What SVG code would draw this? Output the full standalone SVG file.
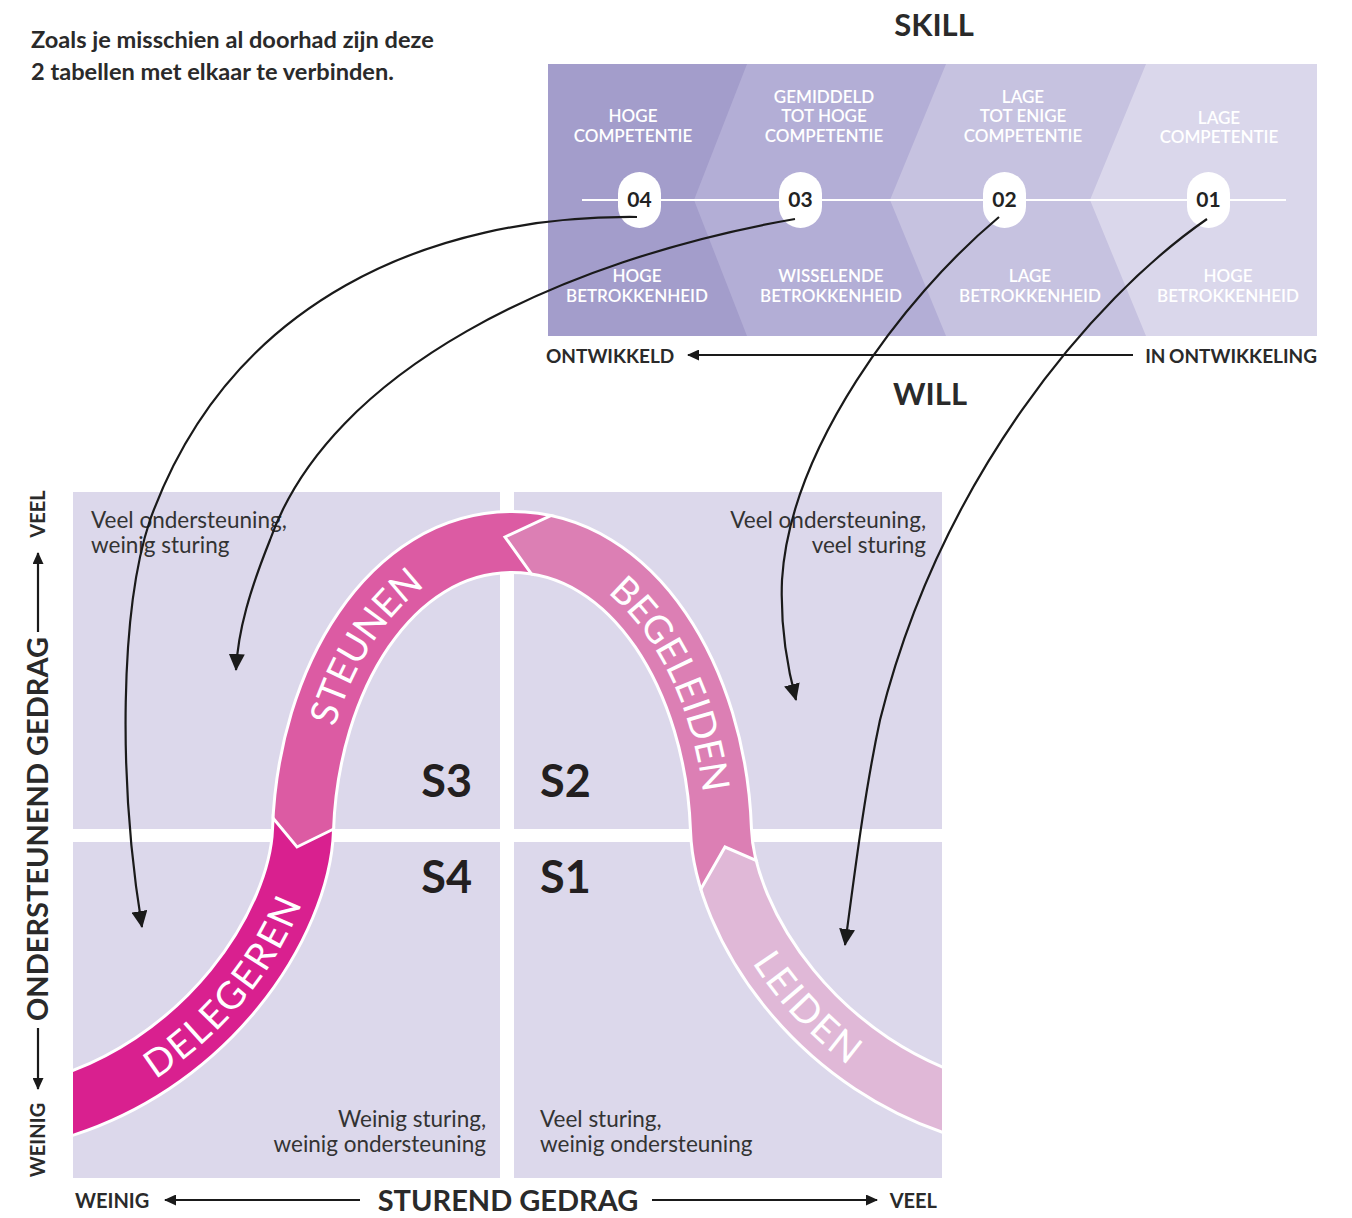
<svg xmlns="http://www.w3.org/2000/svg" xmlns:xlink="http://www.w3.org/1999/xlink" width="1352" height="1218" viewBox="0 0 1352 1218">
  <style>
    text { font-family: Lato, "Noto Sans", "Liberation Sans", sans-serif; }
    .dark { fill: #2a2a2a; }
    .intro { font-size: 23.6px; font-weight: 700; }
    .title { font-size: 31px; font-weight: 700; }
    .axis { font-size: 20px; font-weight: 700; }
    .axisBig { font-size: 29px; font-weight: 700; }
    .scale { font-size: 19px; font-weight: 700; }
    .cell { font-size: 17px; font-weight: 600; fill: #ffffff; text-anchor: middle; }
    .pill { fill: #ffffff; }
    .num { font-size: 21px; font-weight: 700; fill: #222222; text-anchor: middle; }
    .quad { fill: #dcd8eb; }
    .qtext { font-size: 22.5px; fill: #333333; }
    .style { font-size: 45px; font-weight: 700; fill: #231f20; }
    .bandLabel { font-size: 38px; fill: #ffffff; letter-spacing: 1px; }
    .line { fill: none; stroke: #1a1a1a; stroke-width: 2.2; }
    .conn { fill: none; stroke: #1a1a1a; stroke-width: 2.2; marker-end: url(#head); }
  </style>
  <defs>
    <marker id="head" viewBox="0 0 17 16" refX="16" refY="8" markerWidth="17" markerHeight="16" markerUnits="userSpaceOnUse" orient="auto">
      <path d="M0,0 L17,8 L0,16 z" fill="#1a1a1a"/>
    </marker>
    <marker id="headSmall" viewBox="0 0 12 11" refX="11" refY="5.5" markerWidth="12" markerHeight="11" markerUnits="userSpaceOnUse" orient="auto">
      <path d="M0,0 L12,5.5 L0,11 z" fill="#1a1a1a"/>
    </marker>
    <!-- centre line of the bell-shaped band -->
    <path id="curve" d="M 40 1113 C 210 1070 300 920 303 830 C 308 680 390 542 512 542 C 634 542 716 680 721 830 C 724 920 814 1070 984 1113"/>
    <clipPath id="plot"><rect x="73" y="480" width="869" height="700"/></clipPath>
    <mask id="bandInner" maskUnits="userSpaceOnUse" x="0" y="0" width="1352" height="1218">
      <use xlink:href="#curve" fill="none" stroke="#ffffff" stroke-width="58"/>
    </mask>
    <mask id="bandOuter" maskUnits="userSpaceOnUse" x="0" y="0" width="1352" height="1218">
      <use xlink:href="#curve" fill="none" stroke="#ffffff" stroke-width="64"/>
    </mask>
  </defs>

  <rect width="1352" height="1218" fill="#ffffff"/>

  <!-- intro text -->
  <g id="intro" class="dark intro">
    <text x="31" y="48">Zoals je misschien al doorhad zijn deze</text>
    <text x="31" y="80">2 tabellen met elkaar te verbinden.</text>
  </g>

  <!-- skill / will table -->
  <g id="table">
    <text class="dark title" x="934" y="36" text-anchor="middle">SKILL</text>
    <rect id="col-01" x="548" y="64" width="769" height="272" fill="#dad7eb"/>
    <polygon id="col-02" points="548,64 1146,64 1090,200 1146,336 548,336" fill="#c6c2e0"/>
    <polygon id="col-03" points="548,64 946,64 890,200 946,336 548,336" fill="#b3aed6"/>
    <polygon id="col-04" points="548,64 747,64 694,200 747,336 548,336" fill="#a39dcb"/>
    <line x1="582" y1="200" x2="1286" y2="200" stroke="#ffffff" stroke-width="2"/>

    <g id="cell-04">
      <text class="cell" x="633" y="122">HOGE</text>
      <text class="cell" x="633" y="142">COMPETENTIE</text>
      <text class="cell" x="637" y="282">HOGE</text>
      <text class="cell" x="637" y="302">BETROKKENHEID</text>
    </g>
    <g id="cell-03">
      <text class="cell" x="824" y="103">GEMIDDELD</text>
      <text class="cell" x="824" y="122">TOT HOGE</text>
      <text class="cell" x="824" y="142">COMPETENTIE</text>
      <text class="cell" x="831" y="282">WISSELENDE</text>
      <text class="cell" x="831" y="302">BETROKKENHEID</text>
    </g>
    <g id="cell-02">
      <text class="cell" x="1023" y="103">LAGE</text>
      <text class="cell" x="1023" y="122">TOT ENIGE</text>
      <text class="cell" x="1023" y="142">COMPETENTIE</text>
      <text class="cell" x="1030" y="282">LAGE</text>
      <text class="cell" x="1030" y="302">BETROKKENHEID</text>
    </g>
    <g id="cell-01">
      <text class="cell" x="1219" y="124">LAGE</text>
      <text class="cell" x="1219" y="143">COMPETENTIE</text>
      <text class="cell" x="1228" y="282">HOGE</text>
      <text class="cell" x="1228" y="302">BETROKKENHEID</text>
    </g>

    <g id="pill-04"><rect class="pill" x="618" y="172" width="43" height="56" rx="21.5"/><text class="num" x="639.5" y="207">04</text></g>
    <g id="pill-03"><rect class="pill" x="779" y="172" width="43" height="56" rx="21.5"/><text class="num" x="800.5" y="207">03</text></g>
    <g id="pill-02"><rect class="pill" x="983" y="172" width="43" height="56" rx="21.5"/><text class="num" x="1004.5" y="207">02</text></g>
    <g id="pill-01"><rect class="pill" x="1187" y="172" width="43" height="56" rx="21.5"/><text class="num" x="1208.5" y="207">01</text></g>

    <g id="will-scale">
      <text class="dark scale" x="546" y="363">ONTWIKKELD</text>
      <line class="line" x1="1133" y1="355" x2="688" y2="355" marker-end="url(#headSmall)"/>
      <text class="dark scale" x="1317" y="363" text-anchor="end" word-spacing="-1">IN ONTWIKKELING</text>
      <text class="dark title" x="930" y="405" text-anchor="middle">WILL</text>
    </g>
  </g>

  <!-- quadrants -->
  <g id="quadrants">
    <g id="q-s3">
      <rect class="quad" x="73" y="492" width="427" height="337"/>
      <text class="qtext" x="91" y="528">Veel ondersteuning,</text>
      <text class="qtext" x="91" y="553">weinig sturing</text>
      <text class="style" x="472" y="797" text-anchor="end">S3</text>
    </g>
    <g id="q-s2">
      <rect class="quad" x="514" y="492" width="428" height="337"/>
      <text class="qtext" x="926" y="528" text-anchor="end">Veel ondersteuning,</text>
      <text class="qtext" x="926" y="553" text-anchor="end">veel sturing</text>
      <text class="style" x="540" y="797">S2</text>
    </g>
    <g id="q-s4">
      <rect class="quad" x="73" y="842" width="427" height="336"/>
      <text class="qtext" x="486" y="1127" text-anchor="end">Weinig sturing,</text>
      <text class="qtext" x="486" y="1152" text-anchor="end">weinig ondersteuning</text>
      <text class="style" x="472" y="893" text-anchor="end">S4</text>
    </g>
    <g id="q-s1">
      <rect class="quad" x="514" y="842" width="428" height="336"/>
      <text class="qtext" x="540" y="1127">Veel sturing,</text>
      <text class="qtext" x="540" y="1152">weinig ondersteuning</text>
      <text class="style" x="540" y="893">S1</text>
    </g>
  </g>

  <!-- bell-shaped band: one colour per leadership style -->
  <g id="band" clip-path="url(#plot)">
    <use xlink:href="#curve" fill="none" stroke="#ffffff" stroke-width="64"/>
    <g mask="url(#bandInner)">
      <polygon id="seg-delegeren" points="0,789 249,789 297,847 350,821 350,1218 0,1218" fill="#d9208f"/>
      <polygon id="seg-steunen" points="0,470 580,470 580,502 505,537 545,593 350,821 297,847 249,789 0,789" fill="#dc5ba3"/>
      <polygon id="seg-begeleiden" points="505,537 580,502 580,470 1100,470 1100,875 790,875 725,847 690,908 545,593" fill="#dc7fb4"/>
      <polygon id="seg-leiden" points="690,908 725,847 790,875 1100,875 1100,1218 690,1218" fill="#e0b8d7"/>
    </g>
    <g mask="url(#bandOuter)" fill="none" stroke="#ffffff" stroke-width="3">
      <polyline points="249,789 297,847 350,821"/>
      <polyline points="580,502 505,537 545,593"/>
      <polyline points="690,908 725,847 790,875"/>
    </g>
    <g class="bandLabel">
      <text dominant-baseline="central"><textPath xlink:href="#curve" startOffset="14.3%" text-anchor="middle">DELEGEREN</textPath></text>
      <text dominant-baseline="central"><textPath xlink:href="#curve" startOffset="38%" text-anchor="middle">STEUNEN</textPath></text>
      <text dominant-baseline="central"><textPath xlink:href="#curve" startOffset="64.6%" text-anchor="middle">BEGELEIDEN</textPath></text>
      <text dominant-baseline="central"><textPath xlink:href="#curve" startOffset="87%" text-anchor="middle">LEIDEN</textPath></text>
    </g>
  </g>

  <!-- axes -->
  <g id="axis-x">
    <text class="dark axis" x="75" y="1208">WEINIG</text>
    <line class="line" x1="360" y1="1200" x2="165" y2="1200" marker-end="url(#headSmall)"/>
    <text class="dark axisBig" x="508" y="1211" text-anchor="middle">STUREND GEDRAG</text>
    <line class="line" x1="652" y1="1200" x2="877" y2="1200" marker-end="url(#headSmall)"/>
    <text class="dark axis" x="937" y="1208" text-anchor="end">VEEL</text>
  </g>
  <g id="axis-y">
    <text class="dark axis" transform="translate(45,514) rotate(-90)" text-anchor="middle">VEEL</text>
    <line class="line" x1="38" y1="632" x2="38" y2="553" marker-end="url(#headSmall)"/>
    <text class="dark axisBig" transform="translate(48,829) rotate(-90)" text-anchor="middle">ONDERSTEUNEND GEDRAG</text>
    <line class="line" x1="38" y1="1028" x2="38" y2="1089" marker-end="url(#headSmall)"/>
    <text class="dark axis" transform="translate(45,1140) rotate(-90)" text-anchor="middle">WEINIG</text>
  </g>

  <!-- connectors from the numbered stages to the quadrants -->
  <g id="connectors">
    <path class="conn" d="M 637 217 C 430 215 230 300 150 520 C 120 610 118 780 142 927"/>
    <path class="conn" d="M 795 219 C 560 260 330 370 270 540 C 250 590 238 630 236 670"/>
    <path class="conn" d="M 999 217 C 900 300 790 450 782 580 C 780 630 788 670 796 700"/>
    <path class="conn" d="M 1207 219 C 1090 300 940 480 880 720 C 865 790 855 870 845 945"/>
  </g>
</svg>
